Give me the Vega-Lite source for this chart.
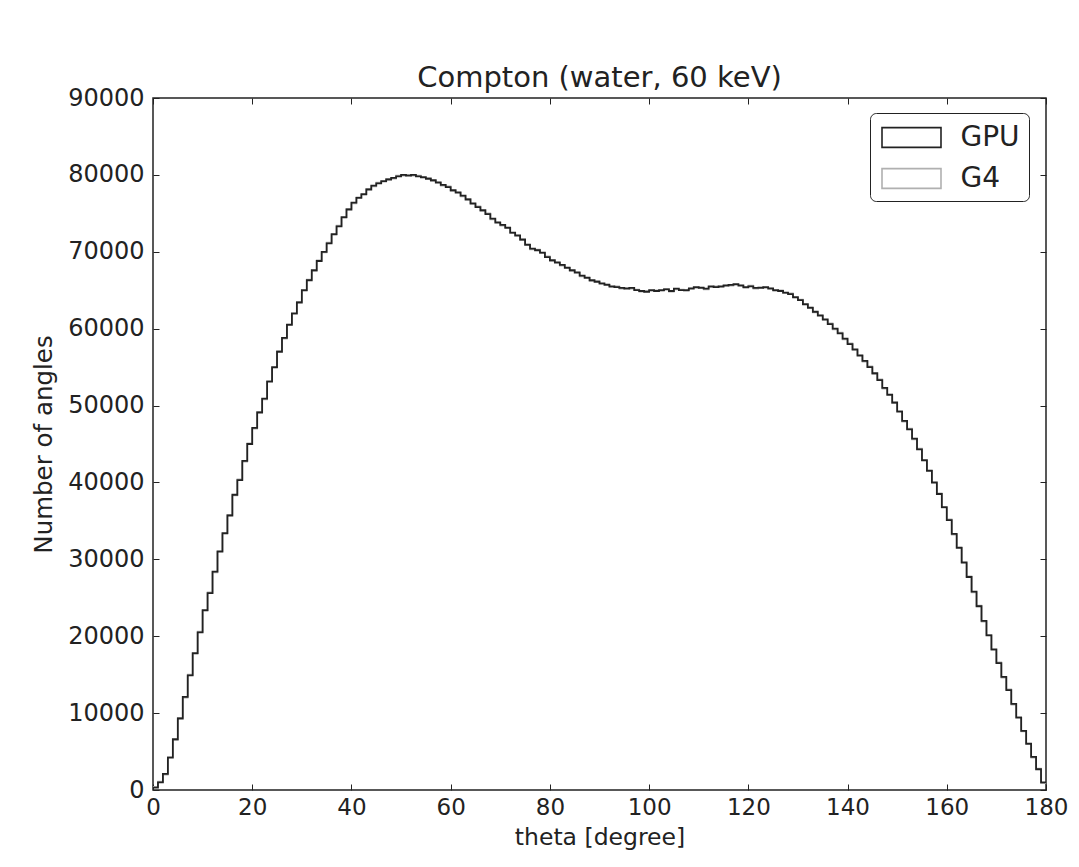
{
"$schema": "https://vega.github.io/schema/vega-lite/v6.json",
"autosize": {"type": "none"},
"padding": {"left": 153, "top": 98, "right": 33, "bottom": 77},
"width": 893,
"height": 692,
"background": "white",
"title": {"text": "Compton (water, 60 keV)", "fontSize": 29, "font": "DejaVu Sans", "fontWeight": "normal", "color": "#222", "anchor": "middle", "frame": "group", "baseline": "alphabetic", "offset": -30},
"config": {"view": {"stroke": "#222", "strokeWidth": 1.5}, "font": "DejaVu Sans"},
"data": {"values": [
{"theta":0,"count":300,"series":"GPU"},{"theta":1,"count":1000,"series":"GPU"},{"theta":2,"count":2100,"series":"GPU"},{"theta":3,"count":4200,"series":"GPU"},{"theta":4,"count":6600,"series":"GPU"},{"theta":5,"count":9300,"series":"GPU"},{"theta":6,"count":12100,"series":"GPU"},{"theta":7,"count":14900,"series":"GPU"},{"theta":8,"count":17800,"series":"GPU"},{"theta":9,"count":20500,"series":"GPU"},
{"theta":10,"count":23400,"series":"GPU"},{"theta":11,"count":25600,"series":"GPU"},{"theta":12,"count":28400,"series":"GPU"},{"theta":13,"count":31000,"series":"GPU"},{"theta":14,"count":33400,"series":"GPU"},{"theta":15,"count":35700,"series":"GPU"},{"theta":16,"count":38400,"series":"GPU"},{"theta":17,"count":40300,"series":"GPU"},{"theta":18,"count":42800,"series":"GPU"},{"theta":19,"count":45000,"series":"GPU"},
{"theta":20,"count":47100,"series":"GPU"},{"theta":21,"count":49100,"series":"GPU"},{"theta":22,"count":50900,"series":"GPU"},{"theta":23,"count":53100,"series":"GPU"},{"theta":24,"count":55000,"series":"GPU"},{"theta":25,"count":57000,"series":"GPU"},{"theta":26,"count":58800,"series":"GPU"},{"theta":27,"count":60500,"series":"GPU"},{"theta":28,"count":62000,"series":"GPU"},{"theta":29,"count":63400,"series":"GPU"},
{"theta":30,"count":65000,"series":"GPU"},{"theta":31,"count":66300,"series":"GPU"},{"theta":32,"count":67600,"series":"GPU"},{"theta":33,"count":68800,"series":"GPU"},{"theta":34,"count":70000,"series":"GPU"},{"theta":35,"count":71100,"series":"GPU"},{"theta":36,"count":72300,"series":"GPU"},{"theta":37,"count":73300,"series":"GPU"},{"theta":38,"count":74500,"series":"GPU"},{"theta":39,"count":75500,"series":"GPU"},
{"theta":40,"count":76400,"series":"GPU"},{"theta":41,"count":77000,"series":"GPU"},{"theta":42,"count":77500,"series":"GPU"},{"theta":43,"count":78100,"series":"GPU"},{"theta":44,"count":78600,"series":"GPU"},{"theta":45,"count":78900,"series":"GPU"},{"theta":46,"count":79200,"series":"GPU"},{"theta":47,"count":79400,"series":"GPU"},{"theta":48,"count":79600,"series":"GPU"},{"theta":49,"count":79800,"series":"GPU"},
{"theta":50,"count":80000,"series":"GPU"},{"theta":51,"count":79900,"series":"GPU"},{"theta":52,"count":80000,"series":"GPU"},{"theta":53,"count":79800,"series":"GPU"},{"theta":54,"count":79700,"series":"GPU"},{"theta":55,"count":79500,"series":"GPU"},{"theta":56,"count":79300,"series":"GPU"},{"theta":57,"count":79000,"series":"GPU"},{"theta":58,"count":78700,"series":"GPU"},{"theta":59,"count":78400,"series":"GPU"},
{"theta":60,"count":78000,"series":"GPU"},{"theta":61,"count":77700,"series":"GPU"},{"theta":62,"count":77300,"series":"GPU"},{"theta":63,"count":76800,"series":"GPU"},{"theta":64,"count":76300,"series":"GPU"},{"theta":65,"count":75800,"series":"GPU"},{"theta":66,"count":75400,"series":"GPU"},{"theta":67,"count":74900,"series":"GPU"},{"theta":68,"count":74300,"series":"GPU"},{"theta":69,"count":73800,"series":"GPU"},
{"theta":70,"count":73500,"series":"GPU"},{"theta":71,"count":73100,"series":"GPU"},{"theta":72,"count":72500,"series":"GPU"},{"theta":73,"count":72100,"series":"GPU"},{"theta":74,"count":71600,"series":"GPU"},{"theta":75,"count":70900,"series":"GPU"},{"theta":76,"count":70400,"series":"GPU"},{"theta":77,"count":70200,"series":"GPU"},{"theta":78,"count":69900,"series":"GPU"},{"theta":79,"count":69300,"series":"GPU"},
{"theta":80,"count":68900,"series":"GPU"},{"theta":81,"count":68600,"series":"GPU"},{"theta":82,"count":68300,"series":"GPU"},{"theta":83,"count":67900,"series":"GPU"},{"theta":84,"count":67600,"series":"GPU"},{"theta":85,"count":67300,"series":"GPU"},{"theta":86,"count":66900,"series":"GPU"},{"theta":87,"count":66600,"series":"GPU"},{"theta":88,"count":66300,"series":"GPU"},{"theta":89,"count":66100,"series":"GPU"},
{"theta":90,"count":65900,"series":"GPU"},{"theta":91,"count":65700,"series":"GPU"},{"theta":92,"count":65500,"series":"GPU"},{"theta":93,"count":65400,"series":"GPU"},{"theta":94,"count":65300,"series":"GPU"},{"theta":95,"count":65200,"series":"GPU"},{"theta":96,"count":65300,"series":"GPU"},{"theta":97,"count":65000,"series":"GPU"},{"theta":98,"count":64900,"series":"GPU"},{"theta":99,"count":64800,"series":"GPU"},
{"theta":100,"count":65000,"series":"GPU"},{"theta":101,"count":64900,"series":"GPU"},{"theta":102,"count":65000,"series":"GPU"},{"theta":103,"count":65100,"series":"GPU"},{"theta":104,"count":64900,"series":"GPU"},{"theta":105,"count":65200,"series":"GPU"},{"theta":106,"count":65000,"series":"GPU"},{"theta":107,"count":65000,"series":"GPU"},{"theta":108,"count":65200,"series":"GPU"},{"theta":109,"count":65400,"series":"GPU"},
{"theta":110,"count":65300,"series":"GPU"},{"theta":111,"count":65200,"series":"GPU"},{"theta":112,"count":65500,"series":"GPU"},{"theta":113,"count":65400,"series":"GPU"},{"theta":114,"count":65500,"series":"GPU"},{"theta":115,"count":65600,"series":"GPU"},{"theta":116,"count":65700,"series":"GPU"},{"theta":117,"count":65800,"series":"GPU"},{"theta":118,"count":65600,"series":"GPU"},{"theta":119,"count":65400,"series":"GPU"},
{"theta":120,"count":65500,"series":"GPU"},{"theta":121,"count":65300,"series":"GPU"},{"theta":122,"count":65300,"series":"GPU"},{"theta":123,"count":65400,"series":"GPU"},{"theta":124,"count":65200,"series":"GPU"},{"theta":125,"count":65000,"series":"GPU"},{"theta":126,"count":64900,"series":"GPU"},{"theta":127,"count":64700,"series":"GPU"},{"theta":128,"count":64500,"series":"GPU"},{"theta":129,"count":64100,"series":"GPU"},
{"theta":130,"count":63700,"series":"GPU"},{"theta":131,"count":63200,"series":"GPU"},{"theta":132,"count":62700,"series":"GPU"},{"theta":133,"count":62200,"series":"GPU"},{"theta":134,"count":61700,"series":"GPU"},{"theta":135,"count":61200,"series":"GPU"},{"theta":136,"count":60600,"series":"GPU"},{"theta":137,"count":60000,"series":"GPU"},{"theta":138,"count":59400,"series":"GPU"},{"theta":139,"count":58700,"series":"GPU"},
{"theta":140,"count":58000,"series":"GPU"},{"theta":141,"count":57300,"series":"GPU"},{"theta":142,"count":56500,"series":"GPU"},{"theta":143,"count":55800,"series":"GPU"},{"theta":144,"count":55000,"series":"GPU"},{"theta":145,"count":54200,"series":"GPU"},{"theta":146,"count":53300,"series":"GPU"},{"theta":147,"count":52300,"series":"GPU"},{"theta":148,"count":51400,"series":"GPU"},{"theta":149,"count":50400,"series":"GPU"},
{"theta":150,"count":49200,"series":"GPU"},{"theta":151,"count":48000,"series":"GPU"},{"theta":152,"count":46900,"series":"GPU"},{"theta":153,"count":45700,"series":"GPU"},{"theta":154,"count":44300,"series":"GPU"},{"theta":155,"count":42900,"series":"GPU"},{"theta":156,"count":41500,"series":"GPU"},{"theta":157,"count":40000,"series":"GPU"},{"theta":158,"count":38500,"series":"GPU"},{"theta":159,"count":36800,"series":"GPU"},
{"theta":160,"count":35100,"series":"GPU"},{"theta":161,"count":33300,"series":"GPU"},{"theta":162,"count":31500,"series":"GPU"},{"theta":163,"count":29600,"series":"GPU"},{"theta":164,"count":27700,"series":"GPU"},{"theta":165,"count":25800,"series":"GPU"},{"theta":166,"count":23900,"series":"GPU"},{"theta":167,"count":22000,"series":"GPU"},{"theta":168,"count":20100,"series":"GPU"},{"theta":169,"count":18300,"series":"GPU"},
{"theta":170,"count":16500,"series":"GPU"},{"theta":171,"count":14700,"series":"GPU"},{"theta":172,"count":13000,"series":"GPU"},{"theta":173,"count":11200,"series":"GPU"},{"theta":174,"count":9400,"series":"GPU"},{"theta":175,"count":7700,"series":"GPU"},{"theta":176,"count":6000,"series":"GPU"},{"theta":177,"count":4300,"series":"GPU"},{"theta":178,"count":2700,"series":"GPU"},{"theta":179,"count":1000,"series":"GPU"},{"theta":180,"count":1000,"series":"GPU"},
{"theta":0,"count":400,"series":"G4"},{"theta":1,"count":1100,"series":"G4"},{"theta":2,"count":2000,"series":"G4"},{"theta":3,"count":4300,"series":"G4"},{"theta":4,"count":6500,"series":"G4"},{"theta":5,"count":9400,"series":"G4"},{"theta":6,"count":12000,"series":"G4"},{"theta":7,"count":15000,"series":"G4"},{"theta":8,"count":17700,"series":"G4"},{"theta":9,"count":20600,"series":"G4"},
{"theta":10,"count":23300,"series":"G4"},{"theta":11,"count":25700,"series":"G4"},{"theta":12,"count":28300,"series":"G4"},{"theta":13,"count":31100,"series":"G4"},{"theta":14,"count":33300,"series":"G4"},{"theta":15,"count":35800,"series":"G4"},{"theta":16,"count":38300,"series":"G4"},{"theta":17,"count":40400,"series":"G4"},{"theta":18,"count":42700,"series":"G4"},{"theta":19,"count":45100,"series":"G4"},
{"theta":20,"count":47000,"series":"G4"},{"theta":21,"count":49200,"series":"G4"},{"theta":22,"count":50800,"series":"G4"},{"theta":23,"count":53200,"series":"G4"},{"theta":24,"count":54900,"series":"G4"},{"theta":25,"count":57100,"series":"G4"},{"theta":26,"count":58700,"series":"G4"},{"theta":27,"count":60600,"series":"G4"},{"theta":28,"count":61900,"series":"G4"},{"theta":29,"count":63500,"series":"G4"},
{"theta":30,"count":64900,"series":"G4"},{"theta":31,"count":66400,"series":"G4"},{"theta":32,"count":67500,"series":"G4"},{"theta":33,"count":68900,"series":"G4"},{"theta":34,"count":69900,"series":"G4"},{"theta":35,"count":71200,"series":"G4"},{"theta":36,"count":72200,"series":"G4"},{"theta":37,"count":73400,"series":"G4"},{"theta":38,"count":74400,"series":"G4"},{"theta":39,"count":75600,"series":"G4"},
{"theta":40,"count":76300,"series":"G4"},{"theta":41,"count":77100,"series":"G4"},{"theta":42,"count":77400,"series":"G4"},{"theta":43,"count":78200,"series":"G4"},{"theta":44,"count":78500,"series":"G4"},{"theta":45,"count":79000,"series":"G4"},{"theta":46,"count":79100,"series":"G4"},{"theta":47,"count":79500,"series":"G4"},{"theta":48,"count":79500,"series":"G4"},{"theta":49,"count":79900,"series":"G4"},
{"theta":50,"count":79900,"series":"G4"},{"theta":51,"count":80000,"series":"G4"},{"theta":52,"count":79900,"series":"G4"},{"theta":53,"count":79900,"series":"G4"},{"theta":54,"count":79600,"series":"G4"},{"theta":55,"count":79600,"series":"G4"},{"theta":56,"count":79200,"series":"G4"},{"theta":57,"count":79100,"series":"G4"},{"theta":58,"count":78600,"series":"G4"},{"theta":59,"count":78500,"series":"G4"},
{"theta":60,"count":77900,"series":"G4"},{"theta":61,"count":77800,"series":"G4"},{"theta":62,"count":77200,"series":"G4"},{"theta":63,"count":76900,"series":"G4"},{"theta":64,"count":76200,"series":"G4"},{"theta":65,"count":75900,"series":"G4"},{"theta":66,"count":75300,"series":"G4"},{"theta":67,"count":75000,"series":"G4"},{"theta":68,"count":74200,"series":"G4"},{"theta":69,"count":73900,"series":"G4"},
{"theta":70,"count":73400,"series":"G4"},{"theta":71,"count":73200,"series":"G4"},{"theta":72,"count":72400,"series":"G4"},{"theta":73,"count":72200,"series":"G4"},{"theta":74,"count":71500,"series":"G4"},{"theta":75,"count":71000,"series":"G4"},{"theta":76,"count":70300,"series":"G4"},{"theta":77,"count":70300,"series":"G4"},{"theta":78,"count":69800,"series":"G4"},{"theta":79,"count":69400,"series":"G4"},
{"theta":80,"count":68800,"series":"G4"},{"theta":81,"count":68700,"series":"G4"},{"theta":82,"count":68200,"series":"G4"},{"theta":83,"count":68000,"series":"G4"},{"theta":84,"count":67500,"series":"G4"},{"theta":85,"count":67400,"series":"G4"},{"theta":86,"count":66800,"series":"G4"},{"theta":87,"count":66700,"series":"G4"},{"theta":88,"count":66200,"series":"G4"},{"theta":89,"count":66200,"series":"G4"},
{"theta":90,"count":65800,"series":"G4"},{"theta":91,"count":65800,"series":"G4"},{"theta":92,"count":65400,"series":"G4"},{"theta":93,"count":65500,"series":"G4"},{"theta":94,"count":65200,"series":"G4"},{"theta":95,"count":65300,"series":"G4"},{"theta":96,"count":65200,"series":"G4"},{"theta":97,"count":65100,"series":"G4"},{"theta":98,"count":64800,"series":"G4"},{"theta":99,"count":64900,"series":"G4"},
{"theta":100,"count":64900,"series":"G4"},{"theta":101,"count":65000,"series":"G4"},{"theta":102,"count":64900,"series":"G4"},{"theta":103,"count":65200,"series":"G4"},{"theta":104,"count":64800,"series":"G4"},{"theta":105,"count":65100,"series":"G4"},{"theta":106,"count":65100,"series":"G4"},{"theta":107,"count":64900,"series":"G4"},{"theta":108,"count":65300,"series":"G4"},{"theta":109,"count":65300,"series":"G4"},
{"theta":110,"count":65400,"series":"G4"},{"theta":111,"count":65100,"series":"G4"},{"theta":112,"count":65400,"series":"G4"},{"theta":113,"count":65500,"series":"G4"},{"theta":114,"count":65400,"series":"G4"},{"theta":115,"count":65700,"series":"G4"},{"theta":116,"count":65600,"series":"G4"},{"theta":117,"count":65700,"series":"G4"},{"theta":118,"count":65700,"series":"G4"},{"theta":119,"count":65300,"series":"G4"},
{"theta":120,"count":65600,"series":"G4"},{"theta":121,"count":65200,"series":"G4"},{"theta":122,"count":65400,"series":"G4"},{"theta":123,"count":65300,"series":"G4"},{"theta":124,"count":65300,"series":"G4"},{"theta":125,"count":64900,"series":"G4"},{"theta":126,"count":65000,"series":"G4"},{"theta":127,"count":64600,"series":"G4"},{"theta":128,"count":64600,"series":"G4"},{"theta":129,"count":64000,"series":"G4"},
{"theta":130,"count":63800,"series":"G4"},{"theta":131,"count":63100,"series":"G4"},{"theta":132,"count":62800,"series":"G4"},{"theta":133,"count":62100,"series":"G4"},{"theta":134,"count":61800,"series":"G4"},{"theta":135,"count":61100,"series":"G4"},{"theta":136,"count":60700,"series":"G4"},{"theta":137,"count":59900,"series":"G4"},{"theta":138,"count":59500,"series":"G4"},{"theta":139,"count":58600,"series":"G4"},
{"theta":140,"count":58100,"series":"G4"},{"theta":141,"count":57200,"series":"G4"},{"theta":142,"count":56600,"series":"G4"},{"theta":143,"count":55700,"series":"G4"},{"theta":144,"count":55100,"series":"G4"},{"theta":145,"count":54100,"series":"G4"},{"theta":146,"count":53400,"series":"G4"},{"theta":147,"count":52200,"series":"G4"},{"theta":148,"count":51500,"series":"G4"},{"theta":149,"count":50300,"series":"G4"},
{"theta":150,"count":49300,"series":"G4"},{"theta":151,"count":47900,"series":"G4"},{"theta":152,"count":47000,"series":"G4"},{"theta":153,"count":45600,"series":"G4"},{"theta":154,"count":44400,"series":"G4"},{"theta":155,"count":42800,"series":"G4"},{"theta":156,"count":41600,"series":"G4"},{"theta":157,"count":39900,"series":"G4"},{"theta":158,"count":38600,"series":"G4"},{"theta":159,"count":36700,"series":"G4"},
{"theta":160,"count":35200,"series":"G4"},{"theta":161,"count":33200,"series":"G4"},{"theta":162,"count":31600,"series":"G4"},{"theta":163,"count":29500,"series":"G4"},{"theta":164,"count":27800,"series":"G4"},{"theta":165,"count":25700,"series":"G4"},{"theta":166,"count":24000,"series":"G4"},{"theta":167,"count":21900,"series":"G4"},{"theta":168,"count":20200,"series":"G4"},{"theta":169,"count":18200,"series":"G4"},
{"theta":170,"count":16600,"series":"G4"},{"theta":171,"count":14600,"series":"G4"},{"theta":172,"count":13100,"series":"G4"},{"theta":173,"count":11100,"series":"G4"},{"theta":174,"count":9500,"series":"G4"},{"theta":175,"count":7600,"series":"G4"},{"theta":176,"count":6100,"series":"G4"},{"theta":177,"count":4200,"series":"G4"},{"theta":178,"count":2800,"series":"G4"},{"theta":179,"count":900,"series":"G4"},{"theta":180,"count":900,"series":"G4"}
]},
"resolve": {"axis": {"x": "independent", "y": "independent"}},
"layer": [
  {
    "transform": [{"filter": "datum.series == 'G4'"}],
    "mark": {"type": "line", "interpolate": "step-after", "strokeWidth": 1.6, "clip": true},
    "encoding": {
      "x": {"field": "theta", "type": "quantitative", "scale": {"domain": [0, 180], "nice": false, "zero": false},
        "axis": {"orient": "bottom", "values": [0,20,40,60,80,100,120,140,160,180], "title": "theta [degree]", "titleFontSize": 23.5, "titleFontWeight": "normal", "titleColor": "#222", "titleFont": "DejaVu Sans", "titleBaseline": "alphabetic", "titleX": 446.5, "titleY": 54, "titleAlign": "center", "labelFontSize": 23, "labelColor": "#222", "labelFont": "DejaVu Sans", "labelPadding": 12, "labelFlush": false, "labelOverlap": false, "tickSize": -6, "tickColor": "#222", "tickWidth": 1, "domain": false, "grid": false}},
      "y": {"field": "count", "type": "quantitative", "scale": {"domain": [0, 90000], "nice": false},
        "axis": {"orient": "left", "values": [0,10000,20000,30000,40000,50000,60000,70000,80000,90000], "format": "d", "title": "Number of angles", "titleFontSize": 24.5, "titleFontWeight": "normal", "titleColor": "#222", "titleFont": "DejaVu Sans", "titleBaseline": "alphabetic", "titleAngle": 270, "titleX": -102, "titleY": 346, "titleAlign": "center", "labelFontSize": 24, "labelColor": "#222", "labelFont": "DejaVu Sans", "labelPadding": 15, "labelFlush": false, "labelOverlap": false, "tickSize": -6, "tickColor": "#222", "tickWidth": 1, "domain": false, "grid": false}},
      "color": {"field": "series", "type": "nominal", "scale": {"domain": ["GPU", "G4"], "range": ["#222222", "#b0b0b0"]},
        "legend": {"orient": "none", "legendX": 717, "legendY": 15, "title": null, "symbolType": "M-2,-0.67H2V0.67H-2Z", "symbolSize": 870, "symbolStrokeWidth": 1.6, "symbolFillColor": "white", "symbolOffset": 17, "labelFontSize": 28, "labelColor": "#222", "labelFont": "DejaVu Sans", "labelOffset": 33, "strokeColor": "#222", "fillColor": "white", "cornerRadius": 6, "padding": 8.5, "rowPadding": 11}}
    }
  },
  {
    "transform": [{"filter": "datum.series == 'GPU'"}],
    "mark": {"type": "line", "interpolate": "step-after", "strokeWidth": 1.8, "clip": true},
    "encoding": {
      "x": {"field": "theta", "type": "quantitative", "axis": null},
      "y": {"field": "count", "type": "quantitative", "axis": null},
      "color": {"field": "series", "type": "nominal", "legend": null}
    }
  },
  {
    "mark": {"type": "point", "opacity": 0},
    "encoding": {
      "x": {"field": "theta", "type": "quantitative", "axis": {"orient": "top", "values": [0,20,40,60,80,100,120,140,160,180], "labels": false, "title": null, "tickSize": -6, "tickColor": "#222", "tickWidth": 1, "domain": false, "grid": false}},
      "y": {"field": "count", "type": "quantitative", "axis": {"orient": "right", "values": [0,10000,20000,30000,40000,50000,60000,70000,80000,90000], "labels": false, "title": null, "tickSize": -6, "tickColor": "#222", "tickWidth": 1, "domain": false, "grid": false}}
    }
  }
]
}
